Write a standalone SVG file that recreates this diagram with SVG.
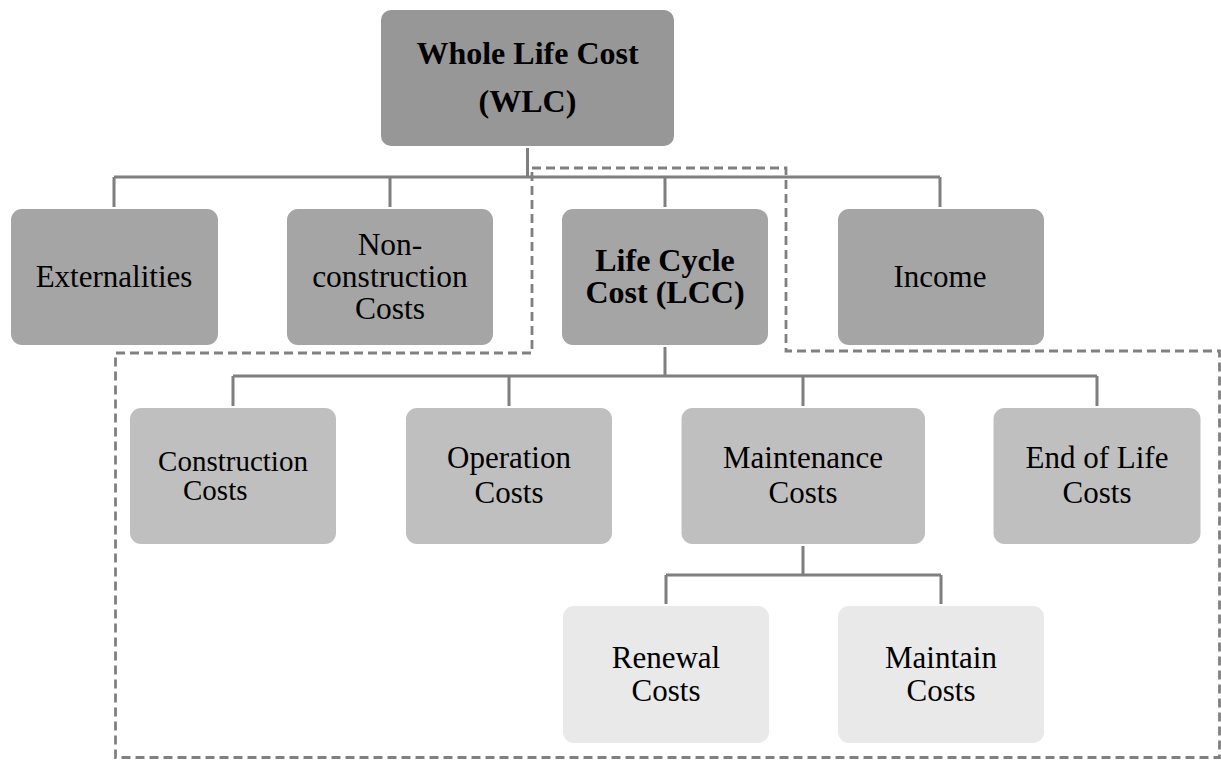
<svg xmlns="http://www.w3.org/2000/svg" width="1221" height="760" viewBox="0 0 1221 760">
<style>
.box{stroke:#ffffff;stroke-width:2}
.l0{fill:#979797}
.l1{fill:#a5a5a5}
.l2{fill:#bfbfbf}
.l3{fill:#e9e9e9}
.t{font-family:"Liberation Serif","Times New Roman",serif;font-size:31px;fill:#000;text-anchor:middle}
.b{font-weight:bold;font-size:32px}
.conn{fill:none;stroke:#7f7f7f;stroke-width:3}
.dash{fill:none;stroke:#808080;stroke-width:2.8;stroke-dasharray:9 5}
</style>
<rect width="1221" height="760" fill="#ffffff"/>
<g id="connectors">
<path class="conn" d="M527.5,147 V177 M114,177 H940 M114,177 V208 M390,177 V208 M665,177 V208 M940,177 V208"/>
<path class="conn" d="M665,346 V376 M233,376 H1097 M233,376 V407 M509,376 V407 M803,376 V407 M1097,376 V407"/>
<path class="conn" d="M803,545 V575 M666,575 H941 M666,575 V605 M941,575 V605"/>
</g>
<g id="boundary">
<path class="dash" d="M532,168 H786 V351 H1219.5 V757.5 H115.5 V353 H532 Z"/>
</g>
<g id="wlc">
<rect class="box l0" x="380" y="9" width="295" height="138" rx="11"/>
<text class="t b" x="527.5" y="64">Whole Life Cost</text>
<text class="t b" x="527.5" y="112">(WLC)</text>
</g>
<g id="externalities">
<rect class="box l1" x="10" y="208" width="209" height="138" rx="12"/>
<text class="t" x="114" y="287">Externalities</text>
</g>
<g id="nonconstruction">
<rect class="box l1" x="286" y="208" width="208" height="138" rx="12"/>
<text class="t" x="390" y="255" style="font-size:31.5px">Non-</text>
<text class="t" x="390" y="287" style="font-size:31.5px">construction</text>
<text class="t" x="390" y="318.5" style="font-size:31.5px">Costs</text>
</g>
<g id="lcc">
<rect class="box l1" x="561" y="208" width="208" height="138" rx="12"/>
<text class="t b" x="665" y="271">Life Cycle</text>
<text class="t b" x="665" y="303">Cost (LCC)</text>
</g>
<g id="income">
<rect class="box l1" x="837" y="208" width="208" height="138" rx="12"/>
<text class="t" x="940" y="287">Income</text>
</g>
<g id="construction">
<rect class="box l2" x="129" y="407" width="208" height="138" rx="12"/>
<text class="t" x="233" y="471" style="font-size:29px">Construction</text>
<text class="t" x="183" y="500" style="font-size:29px;text-anchor:start">Costs</text>
</g>
<g id="operation">
<rect class="box l2" x="405" y="407" width="208" height="138" rx="12"/>
<text class="t" x="509" y="468">Operation</text>
<text class="t" x="509" y="502.5">Costs</text>
</g>
<g id="maintenance">
<rect class="box l2" x="680.5" y="407" width="245.5" height="138" rx="12"/>
<text class="t" x="803" y="468">Maintenance</text>
<text class="t" x="803" y="502.5">Costs</text>
</g>
<g id="endoflife">
<rect class="box l2" x="992.5" y="407" width="209" height="138" rx="12"/>
<text class="t" x="1097" y="468">End of Life</text>
<text class="t" x="1097" y="502.5">Costs</text>
</g>
<g id="renewal">
<rect class="box l3" x="562" y="605" width="208" height="139" rx="12"/>
<text class="t" x="666" y="668">Renewal</text>
<text class="t" x="666" y="701">Costs</text>
</g>
<g id="maintain">
<rect class="box l3" x="837" y="605" width="208" height="139" rx="12"/>
<text class="t" x="941" y="668">Maintain</text>
<text class="t" x="941" y="701">Costs</text>
</g>
</svg>
